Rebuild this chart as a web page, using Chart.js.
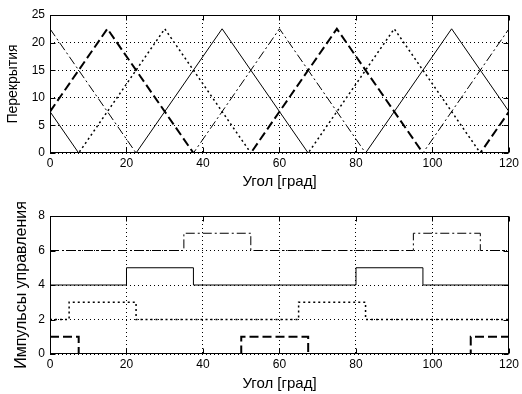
<!DOCTYPE html>
<html>
<head>
<meta charset="utf-8">
<script src="https://cdn.jsdelivr.net/npm/chart.js@4.4.0/dist/chart.umd.min.js"></script>
<style>
  body { margin: 0; background: #fff; }
  canvas { display: block; }
</style>
</head>
<body>
<canvas id="overlapChart" width="522" height="197"></canvas>
<canvas id="pulseChart" width="522" height="197"></canvas>
<script>
// Перекрытия: точки излома треугольных кривых (угол, значение)
const overlapA_x = [0, 15, 37.5, 52.5, 75, 97.5, 112.5, 120];
const overlapA_y = [7.5, 22.5, 0, 0, 22.5, 0, 0, 7.5];
const overlapB_x = [0, 7.5, 30, 52.5, 67.5, 90, 112.5, 120];
const overlapB_y = [0, 0, 22.5, 0, 0, 22.5, 0, 0];
const overlapC_x = [0, 7.5, 22.5, 45, 67.5, 82.5, 105, 120];
const overlapC_y = [7.5, 0, 0, 22.5, 0, 0, 22.5, 7.5];
const overlapD_x = [0, 22.5, 37.5, 60, 82.5, 97.5, 120];
const overlapD_y = [22.5, 0, 0, 22.5, 0, 0, 22.5];

// Импульсы управления: моменты переключения и уровень после них
const pulseA_x = [0, 7.5, 50, 67.5, 110, 120];
const pulseA_y = [1, 0, 1, 0, 1, 1];
const pulseB_x = [0, 5, 22.5, 65, 82.5, 120];
const pulseB_y = [2, 3, 2, 3, 2, 2];
const pulseC_x = [0, 20, 37.5, 80, 97.5, 120];
const pulseC_y = [4, 5, 4, 5, 4, 4];
const pulseD_x = [0, 35, 52.5, 95, 112.5, 120];
const pulseD_y = [6, 7, 6, 7, 6, 6];

const angleTicks = [0, 20, 40, 60, 80, 100, 120];

const FAMILY = '"Liberation Sans", Arial, sans-serif';
const TICK_FONT = { family: FAMILY, size: 12 };
const XTITLE_FONT = { family: FAMILY, size: 15 };

// стили линий: жирный пунктир, точки, сплошная, штрих-пунктир
const styles = [
  { borderWidth: 2, borderDash: [9, 4] },
  { borderWidth: 1.5, borderDash: [2, 3] },
  { borderWidth: 1, borderDash: [] },
  { borderWidth: 1, borderDash: [9, 3, 2, 3] }
];

function toPoints(xs, ys) {
  return xs.map((x, i) => ({ x: x, y: ys[i] }));
}

function makeDatasets(series, stepped) {
  return series.map((s, i) => ({
    data: toPoints(s[0], s[1]),
    borderColor: '#000',
    borderWidth: styles[i].borderWidth,
    borderDash: styles[i].borderDash,
    pointRadius: 0,
    fill: false,
    tension: 0,
    stepped: stepped
  }));
}

// рамка осей и короткие засечки внутрь, как в MATLAB
const boxPlugin = {
  id: 'axesBox',
  afterDraw(chart) {
    const { ctx, chartArea: a, scales } = chart;
    const L = Math.round(a.left) + 0.5, R = Math.round(a.right) - 0.5;
    const T = Math.round(a.top) + 0.5, B = Math.round(a.bottom) - 0.5;
    ctx.save();
    ctx.strokeStyle = '#000';
    ctx.lineWidth = 1;
    ctx.setLineDash([]);
    ctx.strokeRect(L, T, R - L, B - T);
    const len = 5;
    ctx.beginPath();
    scales.x.ticks.forEach(t => {
      const px = Math.round(scales.x.getPixelForValue(t.value)) + 0.5;
      ctx.moveTo(px, B); ctx.lineTo(px, B - len);
      ctx.moveTo(px, T); ctx.lineTo(px, T + len);
    });
    scales.y.ticks.forEach(t => {
      const py = Math.round(scales.y.getPixelForValue(t.value)) + 0.5;
      ctx.moveTo(L, py); ctx.lineTo(L + len, py);
      ctx.moveTo(R, py); ctx.lineTo(R - len, py);
    });
    ctx.stroke();
    ctx.restore();
  }
};

function makeOptions(yMax, yStep, yTitle, pad) {
  return {
    responsive: false,
    animation: false,
    devicePixelRatio: 1,
    layout: { padding: { left: 0, right: 11, top: pad.top, bottom: 0 } },
    plugins: { legend: { display: false }, tooltip: { enabled: false } },
    scales: {
      x: {
        type: 'linear',
        min: 0, max: 120,
        afterBuildTicks: scale => { scale.ticks = angleTicks.map(v => ({ value: v })); },
        afterFit: scale => { scale.height = pad.xHeight; },
        ticks: { color: '#000', font: TICK_FONT, padding: 3, maxRotation: 0 },
        grid: { color: '#000', lineWidth: 1, drawTicks: false },
        border: { display: false, dash: [1, 3] },
        title: { display: true, text: 'Угол [град]', color: '#000', font: XTITLE_FONT, padding: { top: 0, bottom: pad.xTitle } }
      },
      y: {
        min: 0, max: yMax,
        afterFit: scale => { scale.width = 50; },
        ticks: { color: '#000', font: TICK_FONT, padding: 5, stepSize: yStep },
        grid: { color: '#000', lineWidth: 1, drawTicks: false },
        border: { display: false, dash: [1, 3] },
        title: { display: true, text: yTitle, color: '#000', font: { family: FAMILY, size: pad.ySize }, padding: { top: pad.yTitle, bottom: 0 } }
      }
    }
  };
}

new Chart(document.getElementById('overlapChart'), {
  type: 'line',
  data: {
    datasets: makeDatasets([
      [overlapA_x, overlapA_y],
      [overlapB_x, overlapB_y],
      [overlapC_x, overlapC_y],
      [overlapD_x, overlapD_y]
    ], false)
  },
  options: makeOptions(25, 5, 'Перекрытия', { top: 15, xHeight: 44, xTitle: 6, yTitle: 5, ySize: 14 }),
  plugins: [boxPlugin]
});

new Chart(document.getElementById('pulseChart'), {
  type: 'line',
  data: {
    datasets: makeDatasets([
      [pulseA_x, pulseA_y],
      [pulseB_x, pulseB_y],
      [pulseC_x, pulseC_y],
      [pulseD_x, pulseD_y]
    ], 'before')
  },
  options: makeOptions(8, 2, 'Импульсы управления', { top: 19, xHeight: 40, xTitle: 1.5, yTitle: 11.5, ySize: 16 }),
  plugins: [boxPlugin]
});
</script>
</body>
</html>
